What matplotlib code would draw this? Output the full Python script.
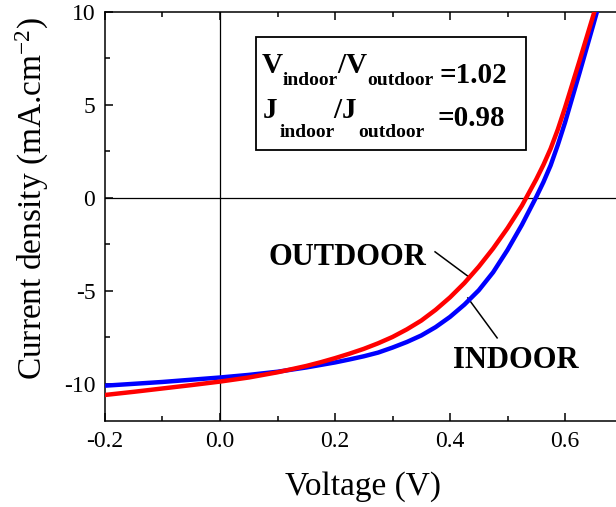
import numpy as np
import matplotlib
matplotlib.use("Agg")
import matplotlib.pyplot as plt
from matplotlib.ticker import MultipleLocator, FormatStrFormatter
from matplotlib.patches import Rectangle

plt.rcParams['font.family'] = ['Liberation Serif', 'DejaVu Serif']
plt.rcParams['mathtext.fontset'] = 'custom'
plt.rcParams['mathtext.rm'] = 'Liberation Serif'
plt.rcParams['mathtext.it'] = 'Liberation Serif:italic'
plt.rcParams['mathtext.bf'] = 'Liberation Serif:bold'
plt.rcParams['axes.unicode_minus'] = False

# J-V curves (V in volts, J in mA/cm2)
v_out = [-0.2, -0.15, -0.1, -0.05, 0.0, 0.05, 0.1, 0.15, 0.175, 0.2, 0.225, 0.25, 0.275,
         0.3, 0.325, 0.35, 0.375, 0.4, 0.425, 0.45, 0.475, 0.5, 0.525, 0.55, 0.5625,
         0.575, 0.5875, 0.6, 0.625, 0.65, 0.66]
j_out = [-10.6, -10.43, -10.25, -10.07, -9.88, -9.66, -9.38, -9.04, -8.84, -8.62, -8.38, -8.12, -7.82,
         -7.48, -7.07, -6.6, -6.02, -5.35, -4.58, -3.7, -2.72, -1.63, -0.42, 1.0, 1.78,
         2.65, 3.68, 4.85, 7.35, 9.9, 10.92]

v_in = [-0.2, -0.15, -0.1, -0.05, 0.0, 0.05, 0.1, 0.15, 0.2, 0.225, 0.25, 0.275,
        0.3, 0.325, 0.35, 0.375, 0.4, 0.425, 0.45, 0.475, 0.5, 0.525, 0.55, 0.5625,
        0.575, 0.5875, 0.6, 0.625, 0.65, 0.66]
j_in = [-10.1, -10.0, -9.9, -9.78, -9.66, -9.52, -9.35, -9.12, -8.85, -8.69, -8.52, -8.32,
        -8.05, -7.75, -7.4, -6.95, -6.4, -5.74, -4.97, -4.0, -2.8, -1.45, 0.05, 0.85,
        1.75, 2.85, 4.05, 6.7, 9.4, 10.5]

ratio_v = "1.02"
ratio_j = "0.98"

fig = plt.figure(figsize=(6.16, 5.07), dpi=100)
ax = fig.add_axes([105/616, 86/507, 546.25/616, 409/507])

ax.axhline(0, color='black', lw=0.9, zorder=1)
ax.axvline(0, color='black', lw=0.9, zorder=1)

ax.plot(v_in, j_in, color='#0000ff', lw=3.2, zorder=3)
ax.plot(v_out, j_out, color='#ff0000', lw=3.2, zorder=4)

ax.set_xlim(-0.2, 0.75)
ax.set_ylim(-12, 10)

ax.xaxis.set_major_locator(MultipleLocator(0.2))
ax.xaxis.set_minor_locator(MultipleLocator(0.1))
ax.xaxis.set_major_formatter(FormatStrFormatter('%.1f'))
ax.yaxis.set_major_locator(MultipleLocator(5))
ax.yaxis.set_minor_locator(MultipleLocator(2.5))
ax.tick_params(which='both', direction='in', top=True, right=True, width=1.1)
ax.tick_params(which='major', length=6, labelsize=17, pad=7)
ax.tick_params(which='minor', length=3.5)
for s in ax.spines.values():
    s.set_linewidth(1.1)

ax.set_xlabel('Voltage (V)', fontsize=24)
ax.set_ylabel('Current density (mA.cm$^{\\mathrm{-2}}$)', fontsize=24)
ax.xaxis.set_label_coords(0.472, -0.123)
ax.yaxis.set_label_coords(-0.098, 0.543)

# ratio box
ax.add_patch(Rectangle((0.2763, 0.6626), 0.5217 * 517.5 / 546.25, 0.2764,
                       transform=ax.transAxes, fill=False, ec='black', lw=1.3, zorder=5))


def px(x, y):
    # figure pixel (from top-left) to figure fraction
    return x / 616, 1 - y / 507


def put(x, y, s, size):
    fig.text(*px(x, y), s, fontsize=size, fontweight='bold', va='baseline', ha='left')


big, small = 21, 14
put(262, 73, 'V', big)
put(283, 85, 'indoor', small)
put(337, 73, '/', big)
put(346, 73, 'V', big)
put(367, 85, 'outdoor', small)
fig.text(*px(507, 83), '=' + ratio_v, fontsize=big, fontweight='bold', va='baseline', ha='right')

put(263, 118, 'J', big)
put(280, 137, 'indoor', small)
put(333, 118, '/', big)
put(342, 118, 'J', big)
put(358, 137, 'outdoor', small)
fig.text(*px(505, 126), '=' + ratio_j, fontsize=big, fontweight='bold', va='baseline', ha='right')

ax.text(0.0835, -3.6, 'OUTDOOR', fontsize=22, fontweight='bold', va='baseline', ha='left')
ax.text(0.405, -9.14, 'INDOOR', fontsize=22, fontweight='bold', va='baseline', ha='left')
ax.plot([0.374, 0.435], [-2.9, -4.3], color='black', lw=1.1, zorder=2)
ax.plot([0.431, 0.482], [-5.38, -7.53], color='black', lw=1.1, zorder=2)

fig.savefig('out.png', dpi=100)
